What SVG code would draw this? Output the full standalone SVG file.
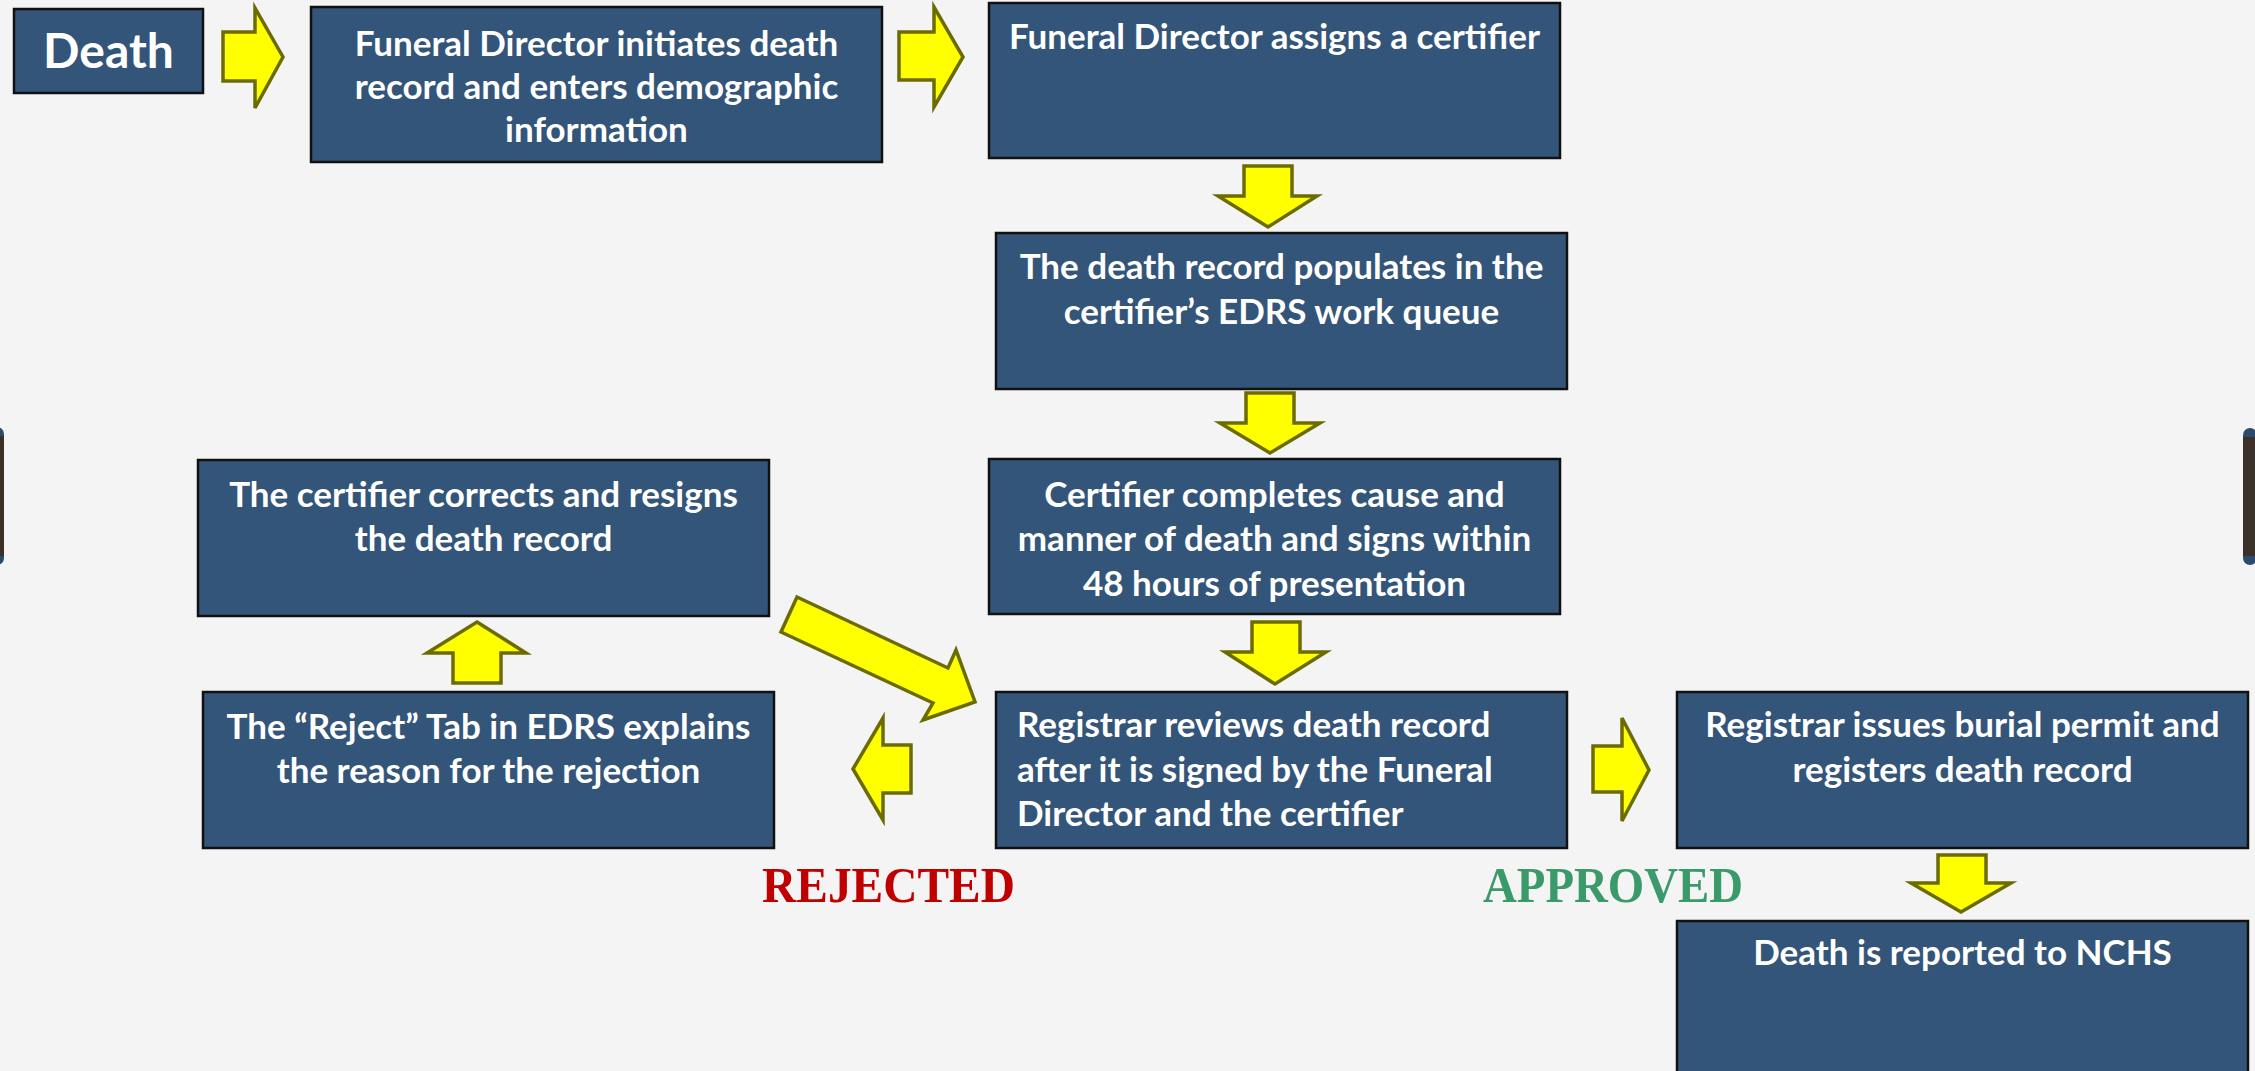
<svg xmlns="http://www.w3.org/2000/svg" width="2255" height="1071" viewBox="0 0 2255 1071">
<defs>
<style>
.box{fill:#34557a;stroke:#111;stroke-width:2.5}
.arr{fill:#ffff00;stroke:#6b6b00;stroke-width:3.5;stroke-linejoin:miter}
.t{font-family:Lato,"Open Sans","Liberation Sans",sans-serif;font-weight:700;font-size:35px;fill:#fff;text-anchor:middle}
.tl{text-anchor:start}
.lbl{font-family:"Liberation Serif","Times New Roman",serif;font-weight:700;font-size:50px}
.bar{fill:#2b4a6e}
.barin{fill:#3b3128}
</style>
</defs>
<rect width="2255" height="1071" fill="#f4f4f4"/>
<g id="sidebars">
<rect class="bar" x="-10" y="427" width="14" height="138" rx="7"/>
<rect class="barin" x="-10" y="436" width="14" height="120"/>
<rect class="bar" x="2243" y="428" width="14" height="137" rx="7"/>
<rect class="barin" x="2243" y="437" width="14" height="119"/>
</g>
<g id="connectors">
<polygon class="arr" points="223,32 255,32 255,8 283,57 255,108 255,81 223,81"/>
<polygon class="arr" points="899,32 934,32 934,7 963,57 934,107 934,80 899,80"/>
<polygon class="arr" points="1244,166 1292,166 1292,196 1317,196 1268,227 1218,196 1244,196"/>
<polygon class="arr" points="1246,393 1294,393 1294,423 1320,423 1270,453 1220,423 1246,423"/>
<polygon class="arr" points="1252,622 1300,622 1300,652 1326,652 1275,684 1225,652 1252,652"/>
<polygon class="arr" points="477,622 526,653 501,653 501,683 453,683 453,653 427,653"/>
<polygon class="arr" points="853,769 883,718 883,745 911,745 911,793 883,793 883,820"/>
<polygon class="arr" points="1593,746 1622,746 1622,718 1649,770 1622,821 1622,792 1593,792"/>
<polygon class="arr" points="1938,855 1986,855 1986,883 2011,883 1961,912 1911,883 1938,883"/>
<polygon class="arr" points="797,597 948,668 956,650 975,702 923,720 933,703 781,632"/>
</g>
<g id="death">
<rect class="box" x="14" y="9" width="189" height="84"/>
<text class="t" x="108.5" y="68" style="font-size:48px">Death</text>
</g>
<g id="fd-initiates">
<rect class="box" x="311" y="7" width="571" height="155"/>
<text class="t" x="596.5" y="56">Funeral Director initiates death</text>
<text class="t" x="596.5" y="99">record and enters demographic</text>
<text class="t" x="596.5" y="142">information</text>
</g>
<g id="fd-assigns">
<rect class="box" x="989" y="3" width="571" height="155"/>
<text class="t" x="1274.5" y="49">Funeral Director assigns a certifier</text>
</g>
<g id="populates">
<rect class="box" x="996" y="233" width="571" height="156"/>
<text class="t" x="1281.5" y="279">The death record populates in the</text>
<text class="t" x="1281.5" y="324">certifier’s EDRS work queue</text>
</g>
<g id="certifier-completes">
<rect class="box" x="989" y="459" width="571" height="155"/>
<text class="t" x="1274.5" y="507">Certifier completes cause and</text>
<text class="t" x="1274.5" y="551">manner of death and signs within</text>
<text class="t" x="1274.5" y="596">48 hours of presentation</text>
</g>
<g id="registrar-reviews">
<rect class="box" x="996" y="692" width="571" height="156"/>
<text class="t tl" x="1017" y="737">Registrar reviews death record</text>
<text class="t tl" x="1017" y="782">after it is signed by the Funeral</text>
<text class="t tl" x="1017" y="826">Director and the certifier</text>
</g>
<g id="registrar-issues">
<rect class="box" x="1677" y="692" width="571" height="156"/>
<text class="t" x="1962.5" y="737">Registrar issues burial permit and</text>
<text class="t" x="1962.5" y="782">registers death record</text>
</g>
<g id="nchs">
<rect class="box" x="1677" y="921" width="571" height="160"/>
<text class="t" x="1962.5" y="965">Death is reported to NCHS</text>
</g>
<g id="corrects">
<rect class="box" x="198" y="460" width="571" height="156"/>
<text class="t" x="483.5" y="507">The certifier corrects and resigns</text>
<text class="t" x="483.5" y="551">the death record</text>
</g>
<g id="reject-tab">
<rect class="box" x="203" y="692" width="571" height="156"/>
<text class="t" x="488.5" y="739">The “Reject” Tab in EDRS explains</text>
<text class="t" x="488.5" y="783">the reason for the rejection</text>
</g>
<g id="labels">
<text class="lbl" x="762" y="902" fill="#c00000" textLength="253" lengthAdjust="spacingAndGlyphs">REJECTED</text>
<text class="lbl" x="1483" y="902" fill="#3a9a6a" textLength="260" lengthAdjust="spacingAndGlyphs">APPROVED</text>
</g>
</svg>
